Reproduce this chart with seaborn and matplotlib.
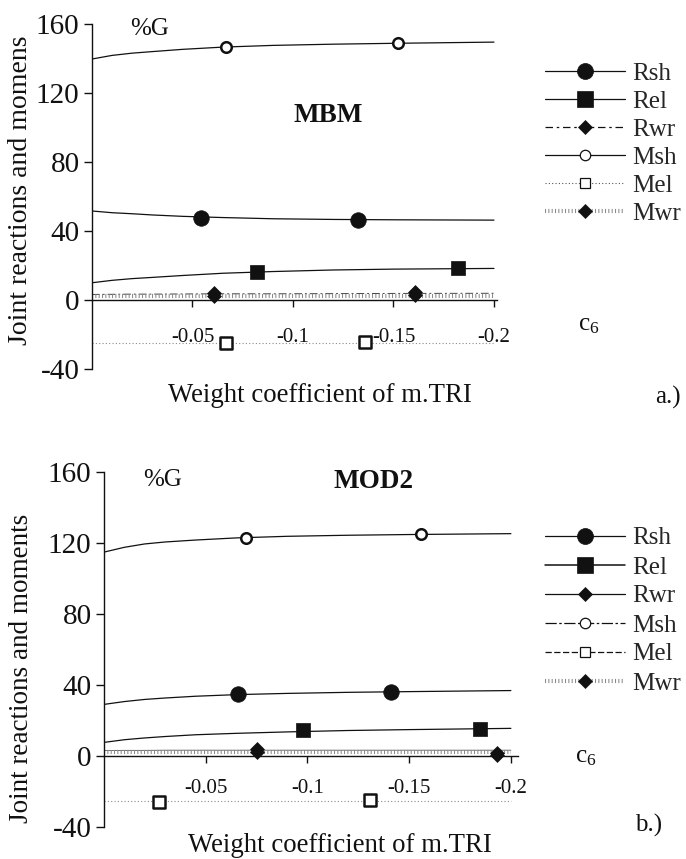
import matplotlib
matplotlib.use("Agg")
import matplotlib.pyplot as plt
from matplotlib.lines import Line2D
import seaborn as sns
import pandas as pd

# ---------------- data ----------------
# weight coefficient of m.TRI (c6) where the fitted curves are traced
x_curve = [0, -0.01, -0.02, -0.03, -0.045, -0.065, -0.09, -0.12, -0.15, -0.2]

# MBM model: fitted curves (%G)
mbm_msh = [139.7, 141.8, 143.1, 144.0, 145.3, 146.6, 147.6, 148.3, 148.8, 149.5]
mbm_rsh = [51.6, 50.6, 50.0, 49.3, 48.5, 47.8, 47.1, 46.7, 46.5, 46.3]
mbm_rel = [10.0, 11.4, 12.4, 13.1, 14.2, 15.5, 16.5, 17.4, 17.9, 18.3]
mbm_rwr = [3.2, 3.3, 3.4, 3.4, 3.5, 3.6, 3.6, 3.7, 3.8, 3.9]
mbm_mel = [-25.0, -25.0, -25.0, -25.0, -25.0, -25.0, -25.0, -25.0, -25.0, -25.0]
mbm_mwr = [2.1, 2.1, 2.1, 2.1, 2.1, 2.1, 2.1, 2.1, 2.1, 2.1]

# MBM model: computed points
mbm_pts = {
    "Rsh": ([-0.0542, -0.1325], [47.4, 46.4]),
    "Rel": ([-0.082, -0.182], [16.4, 18.4]),
    "Rwr": ([-0.0609, -0.1607], [4.2, 4.4]),
    "Msh": ([-0.0665, -0.152], [146.8, 148.8]),
    "Mel": ([-0.0667, -0.1358], [-25.1, -24.6]),
    "Mwr": ([-0.0609, -0.1607], [2.6, 2.8]),
}

# MOD2 model: fitted curves (%G)
mod2_msh = [114.7, 117.4, 119.3, 120.4, 121.5, 122.7, 123.6, 124.2, 124.6, 125.1]
mod2_rsh = [28.9, 30.5, 31.7, 32.5, 33.5, 34.4, 35.1, 35.7, 36.1, 36.7]
mod2_rel = [7.5, 9.0, 10.0, 10.8, 11.8, 12.6, 13.4, 14.2, 14.7, 15.4]
mod2_rwr = [2.9, 3.0, 3.0, 3.1, 3.1, 3.1, 3.1, 3.1, 3.1, 3.1]
mod2_mel = [-25.5, -25.5, -25.5, -25.5, -25.5, -25.5, -25.5, -25.5, -25.5, -25.5]
mod2_mwr = [2.2, 2.2, 2.2, 2.2, 2.2, 2.2, 2.2, 2.2, 2.2, 2.2]

mod2_pts = {
    "Rsh": ([-0.0657, -0.141], [34.5, 35.8]),
    "Rel": ([-0.098, -0.185], [14.7, 15.1]),
    "Rwr": ([-0.075, -0.193], [3.9, 1.8]),
    "Msh": ([-0.0697, -0.1557], [122.9, 124.7]),
    "Mel": ([-0.0272, -0.1307], [-25.9, -25.0]),
    "Mwr": ([-0.075, -0.193], [2.0, 0.4]),
}

series_names = ["Rsh", "Rel", "Rwr", "Msh", "Mel", "Mwr"]
y_ticks = [-40, 0, 40, 80, 120, 160]
x_ticks = [-0.05, -0.1, -0.15, -0.2]
x_tick_labels = ["-0.05", "-0.1", "-0.15", "-0.2"]

# ---------------- style ----------------
sns.set_theme(style="white")
plt.rcParams["font.family"] = ["Liberation Serif", "DejaVu Serif"]
plt.rcParams["mathtext.fontset"] = "custom"
plt.rcParams["mathtext.rm"] = "Liberation Serif"
plt.rcParams["mathtext.it"] = "Liberation Serif"

INK = "#111111"
DOT = "#8a8a8a"

W, H = 686, 859
fig = plt.figure(figsize=(W / 100, H / 100), dpi=100)
fig.patch.set_facecolor("white")


def fx(px):
    return px / W


def fy(py):
    return 1 - py / H


marker_style = {
    "Rsh": dict(marker="o", s=125, color=INK, edgecolor=INK, linewidth=0.5),
    "Rel": dict(marker="s", s=115, color=INK, edgecolor=INK, linewidth=0.5),
    "Rwr": dict(marker="D", s=50, color=INK, edgecolor=INK, linewidth=0.5),
    "Msh": dict(marker="o", s=58, color="white", edgecolor=INK, linewidth=1.8),
    "Mel": dict(marker="s", s=70, color="white", edgecolor=INK, linewidth=1.8),
    "Mwr": dict(marker="D", s=50, color=INK, edgecolor=INK, linewidth=0.5),
}


def draw_panel(ax, curves, line_styles, pts, xmax, xpad):
    for name in series_names:
        df = pd.DataFrame({"c6": x_curve, "val": curves[name]})
        ls, lw, col = line_styles[name]
        sns.lineplot(data=df, x="c6", y="val", ax=ax, color=col, linewidth=lw,
                     linestyle=ls, sort=False, zorder=2)
    for name in series_names:
        xs, ys = pts[name]
        dfp = pd.DataFrame({"c6": xs, "val": ys})
        sns.scatterplot(data=dfp, x="c6", y="val", ax=ax, zorder=4,
                        **marker_style[name])

    ax.set_xlim(0, xmax)
    ax.set_ylim(-40, 160)
    ax.set_xlabel("")
    ax.set_ylabel("")
    ax.set_facecolor("none")
    for side in ("top", "right"):
        ax.spines[side].set_visible(False)
    ax.spines["bottom"].set_position(("data", 0))
    for side in ("left", "bottom"):
        ax.spines[side].set_color(INK)
        ax.spines[side].set_linewidth(1.0)

    ax.set_yticks(y_ticks)
    ax.set_yticklabels([str(v) for v in y_ticks])
    ax.set_xticks(x_ticks)
    ax.set_xticklabels(x_tick_labels)
    ax.tick_params(axis="y", direction="out", length=6, width=1.0, pad=3,
                   labelsize=21, colors=INK, left=True)
    ax.tick_params(axis="x", direction="out", length=5, width=1.0, pad=xpad,
                   labelsize=15, colors=INK, bottom=True)


def legend_handles(styles):
    hs = []
    for name in series_names:
        ls, lw, col, mk, ms, mfc, mew = styles[name]
        hs.append(Line2D([], [], color=col, linestyle=ls, linewidth=lw,
                         marker=mk, markersize=ms, markerfacecolor=mfc,
                         markeredgecolor=INK, markeredgewidth=mew))
    return hs


# ---------------- panel a: MBM ----------------
ax1 = fig.add_axes([fx(92), fy(369), fx(497 - 92), (369 - 24) / H])
mbm_curves = {"Rsh": mbm_rsh, "Rel": mbm_rel, "Rwr": mbm_rwr,
              "Msh": mbm_msh, "Mel": mbm_mel, "Mwr": mbm_mwr}
mbm_lines = {
    "Rsh": ("-", 0.9, INK),
    "Rel": ("-", 0.9, INK),
    "Rwr": ((0, (8, 3, 2, 3)), 0.7, "#444444"),
    "Msh": ("-", 0.9, INK),
    "Mel": ((0, (1, 2)), 0.8, DOT),
    "Mwr": ((0, (0.25, 0.55)), 3.0, DOT),
}
draw_panel(ax1, mbm_curves, mbm_lines, mbm_pts, -0.2015, 15.5)

mbm_leg = {
    "Rsh": ("-", 0.9, INK, "o", 11.5, INK, 0.5),
    "Rel": ("-", 0.9, INK, "s", 11.5, INK, 0.5),
    "Rwr": ((0, (6, 3, 2, 3)), 0.9, INK, "D", 7, INK, 0.5),
    "Msh": ("-", 0.9, INK, "o", 7.5, "white", 0.9),
    "Mel": ((0, (1, 2)), 0.8, "#555555", "s", 7.5, "white", 0.9),
    "Mwr": ((0, (0.25, 0.55)), 3.0, DOT, "D", 7, INK, 0.5),
}
fig.legend(handles=legend_handles(mbm_leg), labels=series_names,
           loc="upper left", bbox_to_anchor=(fx(545), fy(62)),
           frameon=False, borderpad=0, borderaxespad=0, handlelength=3.2,
           handletextpad=0.3, labelspacing=0.22, fontsize=18)

fig.text(fx(130), fy(29), "%G", fontsize=18, ha="left", va="center", color=INK)
fig.text(fx(293), fy(116), "MBM", fontsize=19.5, fontweight="bold",
         ha="left", va="center", color=INK)
fig.text(fx(578), fy(325), r"c$_\mathregular{6}$", fontsize=18,
         ha="left", va="center", color=INK)
fig.text(fx(655), fy(397), "a.)", fontsize=18, ha="left", va="center", color=INK)
fig.text(fx(320), fy(395), "Weight coefficient of m.TRI", fontsize=19.3,
         ha="center", va="center", color=INK)
fig.text(fx(21), fy(190), "Joint reactions and momens", fontsize=20,
         rotation=90, ha="center", va="center", color=INK)

# ---------------- panel b: MOD2 ----------------
ax2 = fig.add_axes([fx(104), fy(826.7), fx(518 - 104), (826.7 - 471.7) / H])
mod2_curves = {"Rsh": mod2_rsh, "Rel": mod2_rel, "Rwr": mod2_rwr,
               "Msh": mod2_msh, "Mel": mod2_mel, "Mwr": mod2_mwr}
mod2_lines = {
    "Rsh": ("-", 0.9, INK),
    "Rel": ("-", 0.9, INK),
    "Rwr": ("-", 0.6, "#555555"),
    "Msh": ("-", 0.9, INK),
    "Mel": ((0, (1, 2)), 0.8, DOT),
    "Mwr": ((0, (0.25, 0.55)), 3.0, DOT),
}
draw_panel(ax2, mod2_curves, mod2_lines, mod2_pts, -0.2035, 11.5)

mod2_leg = {
    "Rsh": ("-", 0.9, INK, "o", 11.5, INK, 0.5),
    "Rel": ("-", 1.1, INK, "s", 11.5, INK, 0.5),
    "Rwr": ("-", 0.9, INK, "D", 7, INK, 0.5),
    "Msh": ((0, (9, 2, 2, 2)), 0.9, INK, "o", 7.5, "white", 0.9),
    "Mel": ((0, (5, 2)), 0.9, INK, "s", 7.5, "white", 0.9),
    "Mwr": ((0, (0.25, 0.55)), 3.0, DOT, "D", 7, INK, 0.5),
}
fig.legend(handles=legend_handles(mod2_leg), labels=series_names,
           loc="upper left", bbox_to_anchor=(fx(545), fy(527)),
           frameon=False, borderpad=0, borderaxespad=0, handlelength=3.2,
           handletextpad=0.3, labelspacing=0.26, fontsize=18)

fig.text(fx(143), fy(480), "%G", fontsize=18, ha="left", va="center", color=INK)
fig.text(fx(333), fy(482), "MOD2", fontsize=19.5, fontweight="bold",
         ha="left", va="center", color=INK)
fig.text(fx(575), fy(757), r"c$_\mathregular{6}$", fontsize=18,
         ha="left", va="center", color=INK)
fig.text(fx(635), fy(825), "b.)", fontsize=18, ha="left", va="center", color=INK)
fig.text(fx(340), fy(845), "Weight coefficient of m.TRI", fontsize=19.3,
         ha="center", va="center", color=INK)
fig.text(fx(22), fy(668), "Joint reactions and moments", fontsize=19.5,
         rotation=90, ha="center", va="center", color=INK)

fig.savefig("out.png", dpi=100, facecolor="white")
